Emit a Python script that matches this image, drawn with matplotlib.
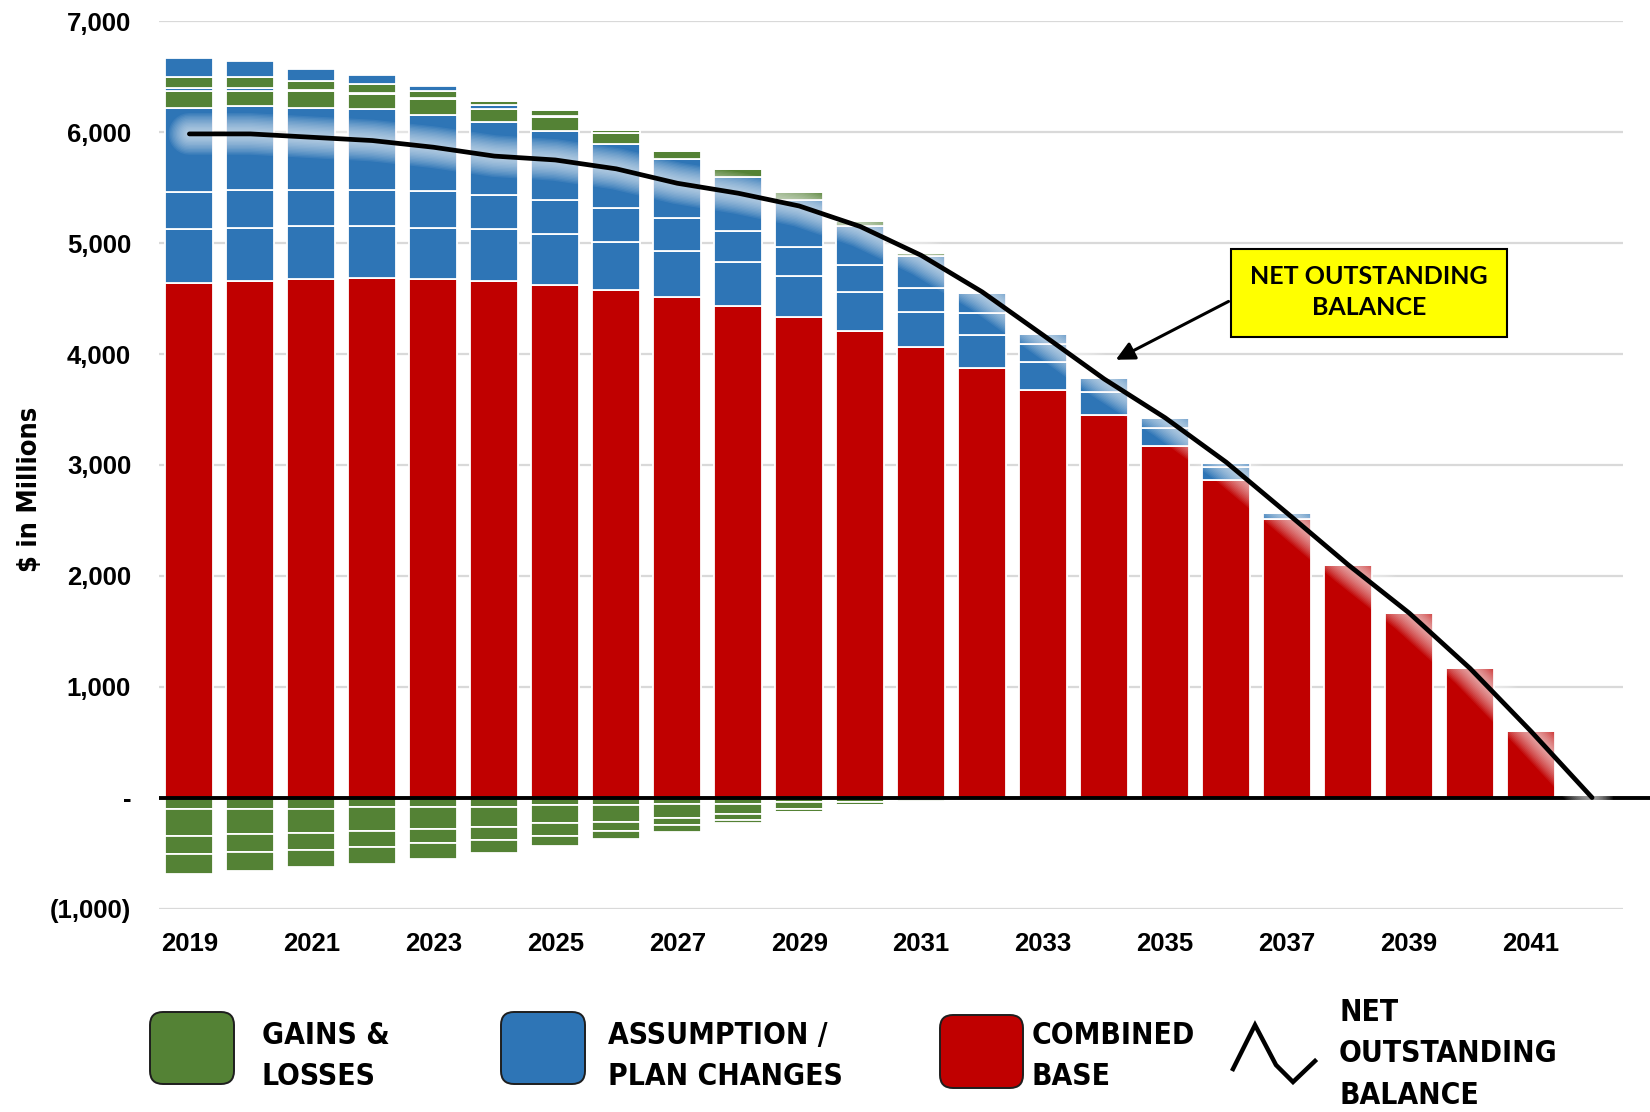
import matplotlib
matplotlib.use("Agg")
import matplotlib.pyplot as plt
import matplotlib.patheffects as pe
from matplotlib.patches import FancyBboxPatch, Rectangle
from matplotlib.lines import Line2D

# fiscal years on the chart
years = list(range(2019, 2043))

# combined base (red), $ millions
base = [4640, 4659, 4674, 4686, 4674, 4659, 4626, 4579, 4510, 4432, 4335, 4206,
        4059, 3878, 3674, 3447, 3172, 2864, 2512, 2100, 1664, 1165, 597, 0]

# assumption / plan change layers (blue)
plan1 = [485, 481, 484, 469, 466, 469, 452, 434, 422, 402, 367, 352,
         321, 292, 257, 212, 162, 117, 54, 0, 0, 0, 0, 0]
plan2 = [340, 340, 325, 325, 326, 307, 307, 308, 293, 277, 265, 246,
         214, 200, 158, 122, 89, 39, 0, 0, 0, 0, 0, 0]
plan3 = [757, 757, 739, 727, 693, 660, 630, 569, 534, 486, 418, 355,
         291, 183, 91, 0, 0, 0, 0, 0, 0, 0, 0, 0]
plan4 = [30, 31, 12, 8, 8, 31, 10, 0, 0, 0, 0, 0,
         0, 0, 0, 0, 0, 0, 0, 0, 0, 0, 0, 0]
plan5 = [170, 140, 104, 76, 48, 0, 0, 0, 0, 0, 0, 0,
         0, 0, 0, 0, 0, 0, 0, 0, 0, 0, 0, 0]

# gains & losses layers (green), positive and negative
gain1 = [148, 133, 149, 139, 139, 117, 122, 100, 76, 72, 73, 44,
         23, 0, 0, 0, 0, 0, 0, 0, 0, 0, 0, 0]
gain2 = [99, 99, 80, 83, 62, 41, 50, 30, 0, 0, 0, 0,
         0, 0, 0, 0, 0, 0, 0, 0, 0, 0, 0, 0]
loss1 = [-104, -104, -104, -86, -86, -86, -71, -71, -56, -56, -40, -40,
         -25, 0, 0, 0, 0, 0, 0, 0, 0, 0, 0, 0]
loss2 = [-241, -226, -211, -212, -197, -178, -161, -146, -127, -95, -63, -27,
         -15, 0, 0, 0, 0, 0, 0, 0, 0, 0, 0, 0]
loss3 = [-162, -161, -159, -146, -126, -115, -113, -81, -66, -51, -27, 0,
         0, 0, 0, 0, 0, 0, 0, 0, 0, 0, 0, 0]
loss4 = [-185, -168, -155, -152, -142, -121, -92, -75, -61, -27, 0, 0,
         0, 0, 0, 0, 0, 0, 0, 0, 0, 0, 0, 0]

# net outstanding balance
net = [5985, 5985, 5955, 5925, 5865, 5785, 5750, 5670, 5540, 5450, 5335, 5150,
       4890, 4560, 4170, 3775, 3425, 3025, 2565, 2100, 1665, 1165, 597, 0]

yticks = [-1000, 0, 1000, 2000, 3000, 4000, 5000, 6000, 7000]
ytick_labels = ["(1,000)", "-", "1,000", "2,000", "3,000", "4,000", "5,000", "6,000", "7,000"]
xticks = list(range(2019, 2042, 2))

RED = "#C00000"
BLUE = "#2E75B6"
GREEN = "#548235"

tick_font = dict(family=["Liberation Sans", "DejaVu Sans"], fontweight="bold", fontsize=18.5)
narrow = dict(family="DejaVu Sans", stretch="condensed", fontweight="bold")

fig = plt.figure(figsize=(16.5, 11.12), dpi=100)
ax = fig.add_axes([0.0963, 0.183, 0.9037, 0.7978])
ax.set_xlim(2018.5, 2042.95)
ax.set_ylim(-1000, 7000)

# grid
for g in yticks:
    if g != 0:
        ax.hlines(g, 2018.5, 2042.5, color="#D9D9D9", lw=1.6, zorder=0)

width = 0.79
bar_kw = dict(width=width, edgecolor="white", linewidth=1.3, zorder=2)

pos_layers = [(base, RED), (plan1, BLUE), (plan2, BLUE), (plan3, BLUE),
              (gain1, GREEN), (plan4, BLUE), (gain2, GREEN), (plan5, BLUE)]
bottom = [0] * len(years)
for vals, col in pos_layers:
    ax.bar(years, vals, bottom=bottom, color=col, **bar_kw)
    bottom = [b + v for b, v in zip(bottom, vals)]

neg_layers = [loss1, loss2, loss3, loss4]
bottom = [0] * len(years)
for vals in neg_layers:
    ax.bar(years, vals, bottom=bottom, color=GREEN, **bar_kw)
    bottom = [b + v for b, v in zip(bottom, vals)]

ax.axhline(0, color="black", lw=2.8, zorder=4)

# soft white halo under the balance line
glow = [pe.Stroke(linewidth=w, foreground="white", alpha=0.07) for w in range(30, 4, -2)]
glow.append(pe.Normal())
ax.plot(years, net, color="black", lw=3.4, zorder=5,
        solid_joinstyle="round", solid_capstyle="round", path_effects=glow)

for s in ax.spines.values():
    s.set_visible(False)
ax.set_yticks(yticks)
ax.set_yticklabels(ytick_labels, **tick_font)
ax.set_xticks(xticks)
ax.set_xticklabels([str(x) for x in xticks], **tick_font)
ax.tick_params(axis="y", length=0, pad=20)
ax.tick_params(axis="x", length=0, pad=17)
ax.set_ylabel("$ in Millions", fontsize=19.5, **narrow)
ax.yaxis.set_label_coords(-0.078, 0.473)

# call-out box
ax.add_patch(Rectangle((2036.08, 4153), 4.53, 794, facecolor="#FFFF00",
                       edgecolor="black", lw=1.5, zorder=6))
ax.text(2038.34, 4560, "NET OUTSTANDING\nBALANCE", ha="center", va="center",
        family=["Lato", "DejaVu Sans"], fontweight="bold", fontsize=18,
        linespacing=1.45, zorder=7)
ax.annotate("", xy=(2034.15, 3937), xytext=(2036.08, 4486),
            arrowprops=dict(arrowstyle="-|>", color="black", lw=2.2, mutation_scale=28),
            zorder=7)

# legend along the bottom (inch coordinates from the lower-left corner)
H = 11.12
tr = fig.dpi_scale_trans


def legend_box(x0, y_top, w, h, col):
    fig.add_artist(FancyBboxPatch((x0, H - y_top - h), w, h,
                                  boxstyle="round,pad=0,rounding_size=0.13",
                                  transform=tr, facecolor=col, edgecolor="#1e1e1e", lw=1.4))


legend_box(1.50, 10.12, 0.84, 0.72, GREEN)
legend_box(5.01, 10.12, 0.84, 0.72, BLUE)
legend_box(9.40, 10.15, 0.83, 0.73, RED)

leg_font = dict(fontsize=21.5, transform=tr, va="center", ha="left", linespacing=1.55, **narrow)
fig.text(2.62, H - 10.56, "GAINS &\nLOSSES", **leg_font)
fig.text(6.08, H - 10.56, "ASSUMPTION /\nPLAN CHANGES", **leg_font)
fig.text(10.32, H - 10.56, "COMBINED\nBASE", **leg_font)
fig.text(13.39, H - 10.54, "NET\nOUTSTANDING\nBALANCE", **leg_font)

zx = [12.33, 12.55, 12.76, 12.93, 13.15]
zy = [10.69, 10.25, 10.65, 10.82, 10.61]
fig.add_artist(Line2D(zx, [H - v for v in zy], transform=tr, color="black", lw=3.2,
                      solid_joinstyle="miter"))

fig.savefig("out.png", dpi=100)
